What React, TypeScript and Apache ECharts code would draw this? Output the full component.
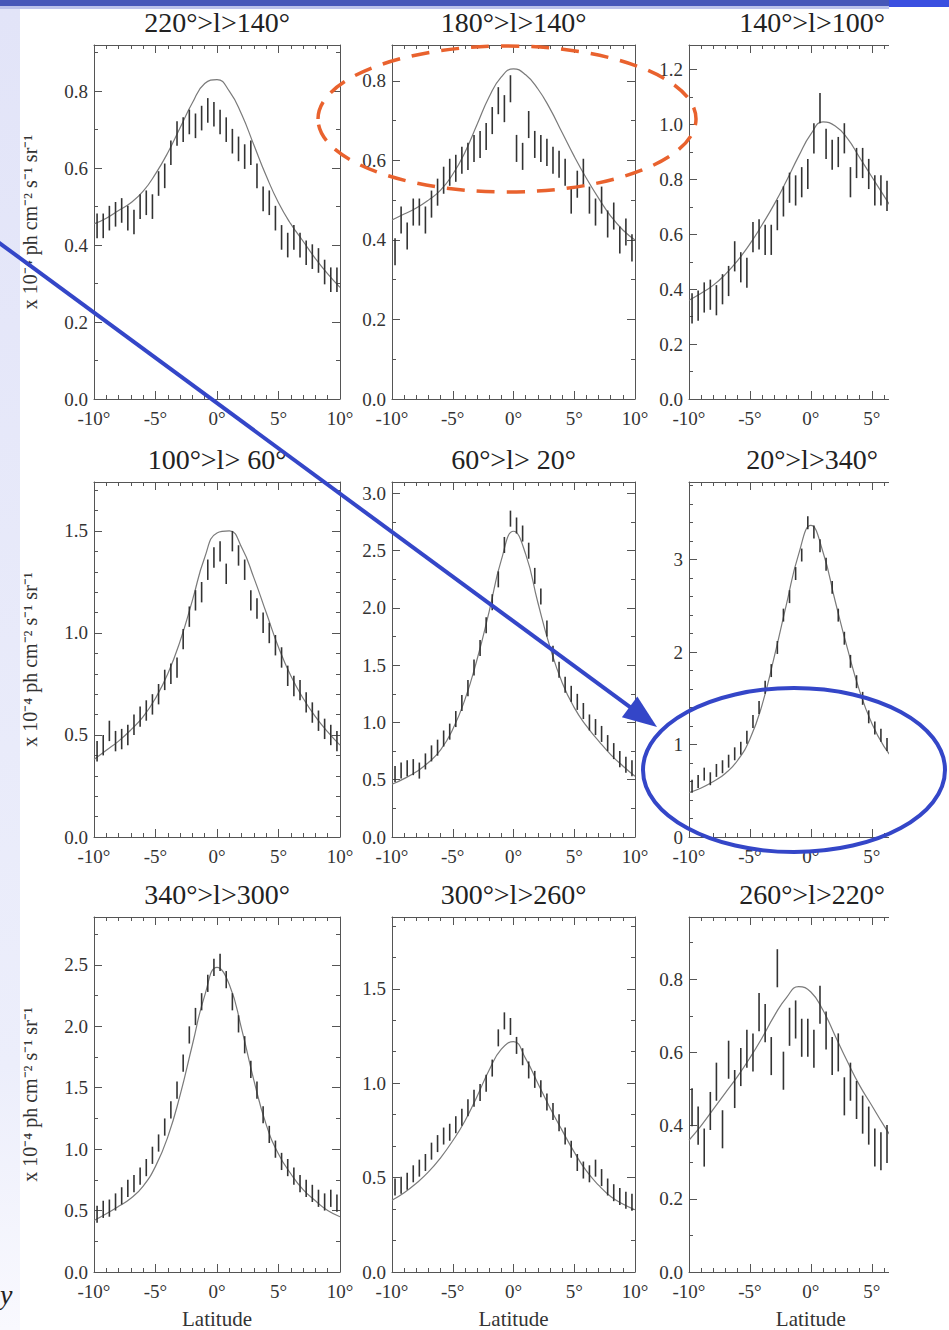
import { useEffect, useRef } from "react";
import * as echarts from "echarts";

// Latitude grid of the fitted model curves and of the measured bins (degrees)
const FIT_LAT = [-10, -9, -8, -7, -6, -5, -4, -3, -2, -1, 0, 1, 2, 3, 4, 5, 6, 7, 8, 9, 10];
const BIN_LAT = [
  -9.75, -9.25, -8.75, -8.25, -7.75, -7.25, -6.75, -6.25, -5.75, -5.25,
  -4.75, -4.25, -3.75, -3.25, -2.75, -2.25, -1.75, -1.25, -0.75, -0.25,
  0.25, 0.75, 1.25, 1.75, 2.25, 2.75, 3.25, 3.75, 4.25, 4.75,
  5.25, 5.75, 6.25, 6.75, 7.25, 7.75, 8.25, 8.75, 9.25, 9.75,
];
const X_TICKS = [-10, -5, 0, 5, 10];

// Longitude ranges, one per panel (row by row)
const TITLES = [
  "220°>l>140°", "180°>l>140°", "140°>l>100°",
  "100°>l> 60°", "60°>l> 20°", "20°>l>340°",
  "340°>l>300°", "300°>l>260°", "260°>l>220°",
];

// Vertical axis ranges (x 10⁻⁴ ph cm⁻² s⁻¹ sr⁻¹)
const Y_MAX = [0.92, 0.89, 1.29, 1.74, 3.1, 3.84, 2.89, 1.88, 0.97];
const Y_STEP = [0.2, 0.2, 0.2, 0.5, 0.5, 1, 0.5, 0.5, 0.2];
const Y_MINOR = [2, 2, 2, 5, 2, 5, 2, 3, 2];

// Model profiles
const FIT_220_140 = [0.455, 0.47, 0.49, 0.51, 0.54, 0.585, 0.64, 0.705, 0.77, 0.82, 0.83, 0.8, 0.74, 0.66, 0.58, 0.51, 0.455, 0.41, 0.365, 0.325, 0.29];
const FIT_180_140 = [0.45, 0.465, 0.48, 0.5, 0.525, 0.565, 0.62, 0.69, 0.76, 0.81, 0.83, 0.815, 0.78, 0.73, 0.67, 0.61, 0.555, 0.505, 0.46, 0.425, 0.4];
const FIT_140_100 = [0.36, 0.385, 0.415, 0.455, 0.505, 0.565, 0.635, 0.71, 0.795, 0.885, 0.965, 1.01, 0.995, 0.95, 0.88, 0.81, 0.74, 0.67, 0.6, 0.54, 0.49];
const FIT_100_60 = [0.38, 0.425, 0.47, 0.525, 0.59, 0.68, 0.8, 0.96, 1.16, 1.37, 1.49, 1.5, 1.42, 1.27, 1.1, 0.93, 0.79, 0.68, 0.59, 0.515, 0.45];
const FIT_60_20 = [0.46, 0.51, 0.57, 0.65, 0.76, 0.94, 1.2, 1.55, 1.97, 2.42, 2.67, 2.47, 2.05, 1.66, 1.35, 1.13, 0.97, 0.84, 0.72, 0.62, 0.53];
const FIT_20_340 = [0.48, 0.53, 0.6, 0.69, 0.83, 1.06, 1.43, 1.95, 2.52, 3.06, 3.37, 3.08, 2.55, 2.04, 1.58, 1.23, 0.98, 0.81, 0.69, 0.6, 0.53];
const FIT_340_300 = [0.42, 0.475, 0.535, 0.6, 0.7, 0.86, 1.1, 1.44, 1.85, 2.25, 2.48, 2.34, 1.98, 1.56, 1.2, 0.96, 0.8, 0.67, 0.58, 0.5, 0.45];
const FIT_300_260 = [0.38, 0.42, 0.47, 0.53, 0.605, 0.695, 0.8, 0.93, 1.07, 1.18, 1.22, 1.13, 1.0, 0.87, 0.75, 0.635, 0.535, 0.46, 0.4, 0.36, 0.33];
const FIT_260_220 = [0.36, 0.4, 0.445, 0.49, 0.535, 0.585, 0.64, 0.7, 0.75, 0.78, 0.765, 0.715, 0.645, 0.575, 0.51, 0.455, 0.4, 0.35, 0.31, 0.28, 0.25];

// Measured intensities per latitude bin
const OBS_220_140 = [0.45, 0.45, 0.47, 0.48, 0.49, 0.47, 0.46, 0.5, 0.51, 0.5, 0.56, 0.58, 0.64, 0.69, 0.7, 0.72, 0.71, 0.73, 0.75, 0.74, 0.72, 0.7, 0.67, 0.65, 0.63, 0.64, 0.58, 0.52, 0.51, 0.47, 0.42, 0.4, 0.42, 0.4, 0.38, 0.37, 0.36, 0.33, 0.31, 0.31];
const OBS_180_140 = [0.37, 0.45, 0.41, 0.47, 0.47, 0.45, 0.49, 0.52, 0.55, 0.57, 0.58, 0.6, 0.61, 0.63, 0.64, 0.66, 0.7, 0.75, 0.73, 0.78, 0.63, 0.61, 0.69, 0.64, 0.63, 0.62, 0.6, 0.59, 0.57, 0.5, 0.54, 0.57, 0.5, 0.47, 0.5, 0.44, 0.46, 0.4, 0.42, 0.38];
const OBS_140_100 = [0.33, 0.34, 0.37, 0.38, 0.36, 0.4, 0.43, 0.52, 0.48, 0.46, 0.59, 0.6, 0.58, 0.58, 0.67, 0.72, 0.77, 0.76, 0.79, 0.82, 0.95, 1.06, 0.93, 0.89, 0.9, 0.95, 0.79, 0.86, 0.86, 0.82, 0.76, 0.76, 0.74, 0.7, 0.66, 0.62, 0.58, 0.56, 0.52, 0.5];
const OBS_100_60 = [0.42, 0.45, 0.52, 0.47, 0.48, 0.5, 0.55, 0.59, 0.62, 0.65, 0.7, 0.77, 0.8, 0.83, 0.97, 1.08, 1.16, 1.2, 1.31, 1.37, 1.4, 1.29, 1.45, 1.38, 1.31, 1.16, 1.12, 1.05, 1.0, 0.94, 0.88, 0.79, 0.74, 0.72, 0.66, 0.61, 0.57, 0.53, 0.5, 0.47];
const OBS_60_20 = [0.55, 0.58, 0.6, 0.61, 0.58, 0.66, 0.73, 0.78, 0.86, 0.92, 1.03, 1.17, 1.3, 1.48, 1.65, 1.85, 2.05, 2.25, 2.55, 2.78, 2.72, 2.65, 2.5, 2.28, 2.1, 1.82, 1.6, 1.46, 1.33, 1.25, 1.18, 1.1, 1.0, 0.96, 0.9, 0.82, 0.75, 0.68, 0.63, 0.6];
const OBS_20_340 = [0.55, 0.6, 0.68, 0.63, 0.72, 0.76, 0.82, 0.9, 0.96, 1.08, 1.25, 1.4, 1.62, 1.8, 2.05, 2.4, 2.6, 2.85, 3.05, 3.4, 3.3, 3.15, 2.95, 2.7, 2.4, 2.15, 1.9, 1.68, 1.5, 1.3, 1.18, 1.1, 1.0, 0.92, 0.85, 0.78, 0.72, 0.67, 0.62, 0.58];
const OBS_340_300 = [0.47, 0.51, 0.52, 0.57, 0.62, 0.68, 0.72, 0.78, 0.85, 0.95, 1.05, 1.18, 1.32, 1.48, 1.7, 1.93, 2.08, 2.2, 2.35, 2.48, 2.52, 2.38, 2.2, 2.02, 1.85, 1.65, 1.48, 1.28, 1.12, 1.0, 0.9, 0.85, 0.78, 0.72, 0.68, 0.64, 0.6, 0.57, 0.6, 0.56];
const OBS_300_260 = [0.45, 0.46, 0.48, 0.52, 0.55, 0.58, 0.64, 0.68, 0.72, 0.74, 0.78, 0.82, 0.87, 0.92, 0.95, 1.0, 1.08, 1.24, 1.33, 1.3, 1.2, 1.14, 1.07, 1.02, 0.97, 0.9, 0.85, 0.79, 0.72, 0.65, 0.58, 0.54, 0.52, 0.55, 0.5, 0.45, 0.42, 0.4, 0.38, 0.37];
const OBS_260_220 = [0.45, 0.4, 0.34, 0.44, 0.52, 0.39, 0.58, 0.5, 0.56, 0.61, 0.6, 0.71, 0.68, 0.59, 0.83, 0.55, 0.67, 0.69, 0.64, 0.64, 0.61, 0.73, 0.66, 0.59, 0.6, 0.48, 0.52, 0.47, 0.43, 0.4, 0.34, 0.33, 0.35, 0.32, 0.3, 0.29, 0.28, 0.27, 0.26, 0.25];

// Half length of the 1-sigma error bars, per panel
const ERR_HALF = [0.032, 0.034, 0.055, 0.05, 0.07, 0.07, 0.07, 0.045, 0.052];

const FITS = [FIT_220_140, FIT_180_140, FIT_140_100, FIT_100_60, FIT_60_20, FIT_20_340, FIT_340_300, FIT_300_260, FIT_260_220];
const OBS = [OBS_220_140, OBS_180_140, OBS_140_100, OBS_100_60, OBS_60_20, OBS_20_340, OBS_340_300, OBS_300_260, OBS_260_220];

// Panel layout
const COL_LEFT = [94, 392, 689];
const COL_WIDTH = [246, 243, 246];
const ROW_TOP = [45, 482, 917];
const ROW_HEIGHT = [354, 355, 355];
const PAGE_W = 949;
const PAGE_H = 1330;
const VISIBLE_RIGHT = 889;

const SERIF = '"Liberation Serif", "Times New Roman", serif';
const AXIS_COLOR = "#555";
const TEXT_COLOR = "#333";
const BLUE = "#3446c8";

function buildOption() {
  const grid: any[] = [];
  const xAxis: any[] = [];
  const yAxis: any[] = [];
  const series: any[] = [];
  const title: any[] = [];

  const lineStyle = { color: AXIS_COLOR, width: 1 };

  TITLES.forEach((t, i) => {
    const r = Math.floor(i / 3);
    const c = i % 3;
    grid.push({ left: COL_LEFT[c], top: ROW_TOP[r], width: COL_WIDTH[c], height: ROW_HEIGHT[r], containLabel: false });
    title.push({
      text: t,
      left: COL_LEFT[c] + COL_WIDTH[c] / 2,
      top: ROW_TOP[r] - 37,
      textAlign: "center",
      padding: 0,
      textStyle: { fontFamily: SERIF, fontSize: 28, fontWeight: "normal", color: "#222" },
    });

    const xCommon = {
      gridIndex: i,
      type: "value",
      min: X_TICKS[0],
      max: X_TICKS[X_TICKS.length - 1],
      interval: X_TICKS[1] - X_TICKS[0],
      axisLine: { show: true, onZero: false, lineStyle },
      axisTick: { show: true, inside: true, length: 8, lineStyle },
      minorTick: { show: true, splitNumber: 5, length: 4, lineStyle },
      splitLine: { show: false },
    };
    xAxis.push({
      ...xCommon,
      position: "bottom",
      axisLabel: {
        show: true,
        margin: 10,
        fontFamily: SERIF,
        fontSize: 19,
        color: TEXT_COLOR,
        formatter: (v: number) => `${v}°`,
      },
      name: r === 2 ? "Latitude" : "",
      nameLocation: "middle",
      nameGap: 36,
      nameTextStyle: { fontFamily: SERIF, fontSize: 21, color: TEXT_COLOR },
    });
    xAxis.push({ ...xCommon, position: "top", axisLabel: { show: false } });

    const yCommon = {
      gridIndex: i,
      type: "value",
      min: 0,
      max: Y_MAX[i],
      interval: Y_STEP[i],
      axisLine: { show: true, onZero: false, lineStyle },
      axisTick: { show: true, inside: true, length: 8, lineStyle },
      minorTick: { show: true, splitNumber: Y_MINOR[i], length: 4, lineStyle },
      splitLine: { show: false },
    };
    yAxis.push({
      ...yCommon,
      position: "left",
      axisLabel: {
        show: true,
        margin: 6,
        showMaxLabel: false,
        fontFamily: SERIF,
        fontSize: 19,
        color: TEXT_COLOR,
        formatter: (v: number) => (Y_STEP[i] >= 1 ? String(Math.round(v)) : v.toFixed(1)),
      },
      name: c === 0 ? "x 10⁻⁴ ph cm⁻² s⁻¹ sr⁻¹" : "",
      nameLocation: "middle",
      nameRotate: 90,
      nameGap: 54,
      nameTextStyle: { fontFamily: SERIF, fontSize: 20, color: TEXT_COLOR },
    });
    yAxis.push({ ...yCommon, position: "right", axisLabel: { show: false } });

    series.push({
      type: "line",
      xAxisIndex: 2 * i,
      yAxisIndex: 2 * i,
      data: FIT_LAT.map((x, k) => [x, FITS[i][k]]),
      smooth: 0.5,
      showSymbol: false,
      symbol: "none",
      silent: true,
      lineStyle: { color: "#7a7a7a", width: 1.2 },
      z: 3,
    });
    series.push({
      type: "custom",
      xAxisIndex: 2 * i,
      yAxisIndex: 2 * i,
      data: BIN_LAT.map((x, k) => [x, OBS[i][k], ERR_HALF[i]]),
      encode: { x: 0, y: 1 },
      clip: true,
      silent: true,
      z: 4,
      renderItem: (_params: any, api: any) => {
        const x = api.value(0);
        const v = api.value(1);
        const h = api.value(2);
        const lo = api.coord([x, v - h]);
        const hi = api.coord([x, v + h]);
        return {
          type: "line",
          shape: { x1: lo[0], y1: lo[1], x2: hi[0], y2: hi[1] },
          style: { stroke: "#333333", lineWidth: 1.6 },
        };
      },
    });
  });

  // Arrow from the slide margin into the 20°>l>340° panel
  const tip = [657, 727];
  const start = [-6, 239];
  const dx = tip[0] - start[0];
  const dy = tip[1] - start[1];
  const len = Math.hypot(dx, dy);
  const ux = dx / len;
  const uy = dy / len;
  const headLen = 34;
  const headHalf = 13;
  const base = [tip[0] - ux * headLen, tip[1] - uy * headLen];

  const graphic: any[] = [
    {
      type: "rect",
      z: 1,
      shape: { x: 0, y: 8, width: 20, height: PAGE_H - 8 },
      style: {
        fill: new echarts.graphic.LinearGradient(0, 0, 0, 1, [
          { offset: 0, color: "#e2e4f8" },
          { offset: 0.8, color: "#eceefb" },
          { offset: 1, color: "#f9f9fe" },
        ]),
      },
    },
    {
      type: "rect",
      z: 50,
      shape: { x: VISIBLE_RIGHT, y: 8, width: PAGE_W - VISIBLE_RIGHT, height: PAGE_H - 8 },
      style: { fill: "#ffffff" },
    },
    { type: "rect", z: 60, shape: { x: 0, y: 0, width: VISIBLE_RIGHT, height: 6 }, style: { fill: "#4757b8" } },
    { type: "rect", z: 60, shape: { x: 0, y: 6, width: VISIBLE_RIGHT, height: 3 }, style: { fill: "#bcc2ea" } },
    { type: "rect", z: 60, shape: { x: VISIBLE_RIGHT, y: 0, width: PAGE_W - VISIBLE_RIGHT, height: 7 }, style: { fill: "#3a4fe0" } },
    {
      type: "ellipse",
      z: 70,
      shape: { cx: 507, cy: 119, rx: 189, ry: 73 },
      style: { fill: "none", stroke: "#e9622e", lineWidth: 3.5, lineDash: [18, 12] },
    },
    {
      type: "line",
      z: 70,
      shape: { x1: start[0], y1: start[1], x2: base[0] + ux * 4, y2: base[1] + uy * 4 },
      style: { stroke: BLUE, lineWidth: 4 },
    },
    {
      type: "polygon",
      z: 70,
      shape: {
        points: [
          tip,
          [base[0] - uy * headHalf, base[1] + ux * headHalf],
          [base[0] + uy * headHalf, base[1] - ux * headHalf],
        ],
      },
      style: { fill: BLUE },
    },
    {
      type: "ellipse",
      z: 70,
      shape: { cx: 794, cy: 770, rx: 151, ry: 82 },
      style: { fill: "none", stroke: BLUE, lineWidth: 4 },
    },
    {
      type: "text",
      z: 70,
      x: 0,
      y: 1280,
      style: { text: "y", font: `italic 28px ${SERIF}`, fill: "#222" },
    },
  ];

  return {
    animation: false,
    backgroundColor: "#ffffff",
    title,
    grid,
    xAxis,
    yAxis,
    series,
    graphic,
  };
}

export default function App() {
  const ref = useRef<HTMLDivElement>(null);

  useEffect(() => {
    document.body.style.margin = "0";
    if (!ref.current) return;
    const chart = echarts.init(ref.current, null, { renderer: "svg" });
    chart.setOption(buildOption() as any);
    return () => chart.dispose();
  }, []);

  return <div ref={ref} style={{ width: PAGE_W, height: PAGE_H }} />;
}
